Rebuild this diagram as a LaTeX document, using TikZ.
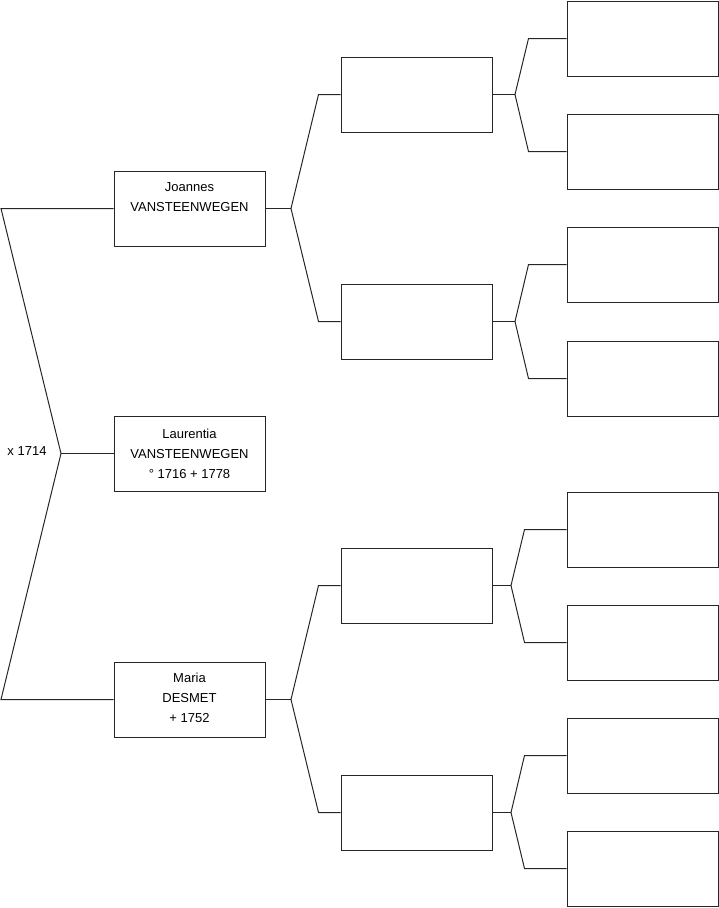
\documentclass[tikz,border=0pt]{standalone}
\usepackage{fontspec}
\setmainfont{Liberation Sans}
\begin{document}
\begin{tikzpicture}[x=1pt,y=-1pt,
  person/.style={draw=black!85, line width=1pt, minimum width=151pt, minimum height=75pt,
    inner sep=0pt},
  ptext/.style={align=center, inner sep=0pt, font=\fontsize{13}{20}\selectfont, text=black},
  conn/.style={draw=black!85, line width=1pt},
  lbl/.style={font=\fontsize{13}{20}\selectfont, text=black, inner sep=0pt}]
\useasboundingbox (0,0) rectangle (719,908);
% generation 1
\node[person] (J) at (189.5,208.5) {};
\node[person] (L) at (189.5,453.5) {};
\node[person] (M) at (189.5,699.5) {};
\node[ptext] (Jt) at ([yshift=-1.5pt]J.center) {Joannes\\VANSTEENWEGEN\\\strut};
\node[ptext] (Lt) at ([yshift=0pt]L.center) {Laurentia\\VANSTEENWEGEN\\° 1716 + 1778};
\node[ptext] (Mt) at ([yshift=2pt]M.center) {Maria\\DESMET\\+ 1752};
\node[lbl] (x) at (27,451.5) {x 1714};
% generation 2
\node[person] (P1) at (416.5,94.5) {};
\node[person] (P2) at (416.5,321.5) {};
\node[person] (P3) at (416.5,585.5) {};
\node[person] (P4) at (416.5,812.5) {};
% generation 3
\node[person] (Q1) at (642.5,38.5) {};
\node[person] (Q2) at (642.5,151.5) {};
\node[person] (Q3) at (642.5,264.5) {};
\node[person] (Q4) at (642.5,378.5) {};
\node[person] (Q5) at (642.5,529.5) {};
\node[person] (Q6) at (642.5,642.5) {};
\node[person] (Q7) at (642.5,755.5) {};
\node[person] (Q8) at (642.5,868.5) {};
% left connector
\coordinate (jL) at (1,208.5);
\coordinate (mj) at (61,453.5);
\coordinate (mL) at (1,699.5);
\draw[conn] (J.west) -- (jL) -- (mj) -- (mL) -- (M.west);
\draw[conn] (mj) -- (L.west);
% gen1 -> gen2
\coordinate (jR) at (291,208.5);
\coordinate (mR) at (291,699.5);
\draw[conn] (J.east) -- (jR);
\draw[conn] (P1.west) -- ([xshift=-22pt]P1.west) -- (jR) -- ([xshift=-22pt]P2.west) -- (P2.west);
\draw[conn] (M.east) -- (mR);
\draw[conn] (P3.west) -- ([xshift=-22pt]P3.west) -- (mR) -- ([xshift=-22pt]P4.west) -- (P4.west);
% gen2 -> gen3
\coordinate (r1) at (515,94.5);
\coordinate (r2) at (515,321.5);
\coordinate (r3) at (511,585.5);
\coordinate (r4) at (511,812.5);
\draw[conn] (P1.east) -- (r1);
\draw[conn] (Q1.west) -- ([xshift=-38pt]Q1.west) -- (r1) -- ([xshift=-38pt]Q2.west) -- (Q2.west);
\draw[conn] (P2.east) -- (r2);
\draw[conn] (Q3.west) -- ([xshift=-38pt]Q3.west) -- (r2) -- ([xshift=-38pt]Q4.west) -- (Q4.west);
\draw[conn] (P3.east) -- (r3);
\draw[conn] (Q5.west) -- ([xshift=-42pt]Q5.west) -- (r3) -- ([xshift=-42pt]Q6.west) -- (Q6.west);
\draw[conn] (P4.east) -- (r4);
\draw[conn] (Q7.west) -- ([xshift=-42pt]Q7.west) -- (r4) -- ([xshift=-42pt]Q8.west) -- (Q8.west);
\end{tikzpicture}
\end{document}
